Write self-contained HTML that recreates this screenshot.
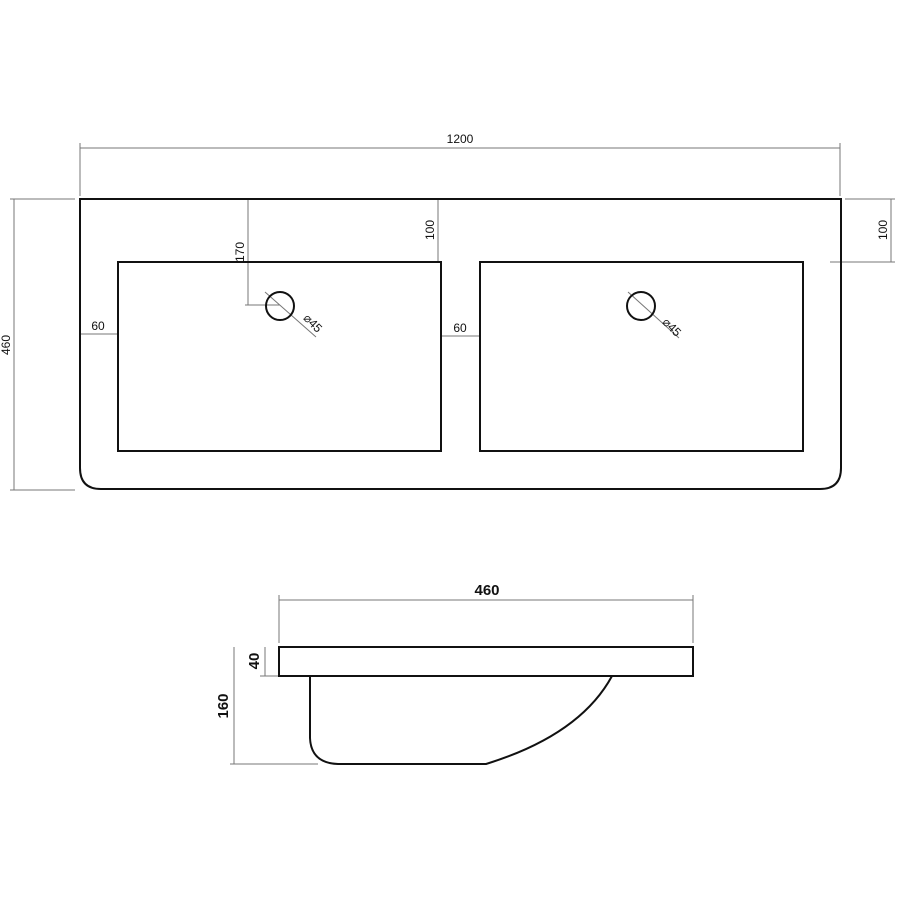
<!DOCTYPE html>
<html><head><meta charset="utf-8"><style>
html,body{margin:0;padding:0;background:#fff;}
svg{display:block;}
text{font-family:"Liberation Sans",sans-serif;fill:#111;}
</style></head><body>
<svg width="900" height="900" viewBox="0 0 900 900" xmlns="http://www.w3.org/2000/svg">
<g fill="none" stroke="#777" stroke-width="1">
<line x1="80" y1="148" x2="840" y2="148"/>
<line x1="80" y1="143" x2="80" y2="196"/>
<line x1="840" y1="143" x2="840" y2="196"/>
<line x1="14" y1="199" x2="14" y2="490"/>
<line x1="10" y1="199" x2="75" y2="199"/>
<line x1="10" y1="490" x2="75" y2="490"/>
<line x1="891" y1="199" x2="891" y2="262"/>
<line x1="845" y1="199" x2="895" y2="199"/>
<line x1="830" y1="262" x2="895" y2="262"/>
<line x1="438" y1="199" x2="438" y2="262"/>
<line x1="248" y1="199" x2="248" y2="305"/>
<line x1="245" y1="305" x2="280" y2="305"/>
<line x1="80" y1="334" x2="118" y2="334"/>
<line x1="441" y1="336" x2="480" y2="336"/>
<line x1="265" y1="292" x2="316" y2="337"/>
<line x1="628" y1="292" x2="679" y2="338"/>
<line x1="279" y1="600" x2="693" y2="600"/>
<line x1="279" y1="595" x2="279" y2="643"/>
<line x1="693" y1="595" x2="693" y2="643"/>
<line x1="265" y1="647" x2="265" y2="676"/>
<line x1="260" y1="676" x2="279" y2="676"/>
<line x1="234" y1="647" x2="234" y2="764"/>
<line x1="230" y1="764" x2="318" y2="764"/>
</g>
<g fill="none" stroke="#111" stroke-width="2">
<path d="M80,199 L841,199 L841,468 Q841,489 820,489 L101,489 Q80,489 80,468 Z"/>
<rect x="118" y="262" width="323" height="189"/>
<rect x="480" y="262" width="323" height="189"/>
<circle cx="280" cy="306" r="14"/>
<circle cx="641" cy="306" r="14"/>
<rect x="279" y="647" width="414" height="29"/>
<path d="M310,676 L310,738 Q311,763 338,764 L486,764 Q580,735 612,676"/>
</g>
<g font-size="12">
<text x="460" y="143" text-anchor="middle">1200</text>
<text transform="translate(10,345) rotate(-90)" text-anchor="middle">460</text>
<text transform="translate(887,230) rotate(-90)" text-anchor="middle">100</text>
<text transform="translate(434,230) rotate(-90)" text-anchor="middle">100</text>
<text transform="translate(244,252) rotate(-90)" text-anchor="middle">170</text>
<text x="98" y="330" text-anchor="middle">60</text>
<text x="460" y="332" text-anchor="middle">60</text>
<text transform="translate(310,326) rotate(45)" text-anchor="middle">⌀45</text>
<text transform="translate(669,330) rotate(45)" text-anchor="middle">⌀45</text>
</g>
<g font-size="15" font-weight="bold">
<text x="487" y="595" text-anchor="middle">460</text>
<text transform="translate(259,661) rotate(-90)" text-anchor="middle">40</text>
<text transform="translate(228,706) rotate(-90)" text-anchor="middle">160</text>
</g>
</svg>
</body></html>
